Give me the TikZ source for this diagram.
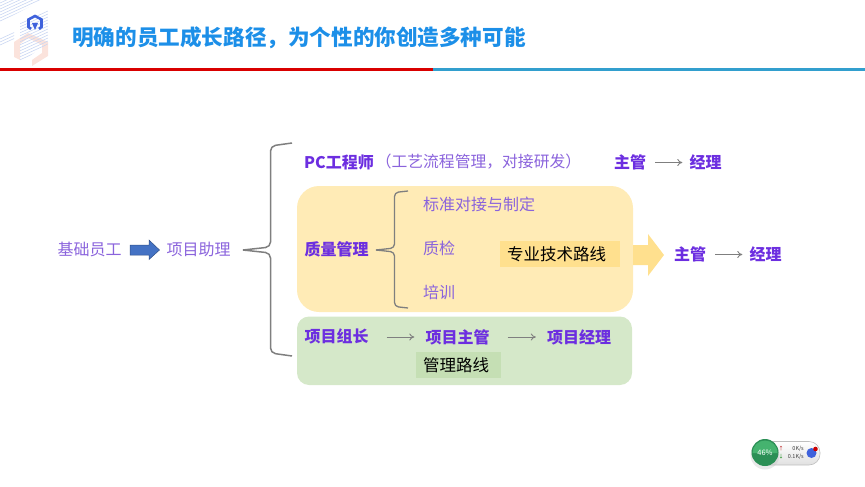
\documentclass[tikz,border=0pt]{standalone}
\usepackage{fontspec}
\setmainfont{Noto Sans CJK SC}
\usepackage{tikz}
\usetikzlibrary{positioning,calc,arrows.meta}
\definecolor{titleblue}{HTML}{1C8FE8}
\definecolor{rolepurple}{HTML}{6C2EE0}
\definecolor{thinpurple}{HTML}{8A63DC}
\definecolor{linegray}{HTML}{7F7F7F}
\definecolor{yellowbox}{HTML}{FFEBB6}
\definecolor{yellowtag}{HTML}{FFE08E}
\definecolor{greenbox}{HTML}{D5E8C9}
\definecolor{greentag}{HTML}{C5DFB4}
\definecolor{ruleblue}{HTML}{329FCE}
\definecolor{arrowblue}{HTML}{4472C4}
\definecolor{logoblue}{HTML}{3F62DC}
\definecolor{hatchblue}{HTML}{C9D6F2}
\definecolor{logopink}{HTML}{FBE3DC}
\definecolor{gaugedark}{HTML}{2B8F55}
\definecolor{gaugelight}{HTML}{45B36F}

\begin{document}
\begin{tikzpicture}[
            x=1pt,y=-1pt,
            node distance=0pt,
            role node/.style={font=\fontsize{16}{16}\selectfont\bfseries,text=rolepurple,inner ysep=0pt,inner xsep=7pt},
            plain node/.style={font=\fontsize{16}{16}\selectfont,text=thinpurple,inner sep=0pt},
            tag node/.style={font=\fontsize{16.5}{17}\selectfont,text=black,inner ysep=0pt,inner xsep=7pt,align=left,minimum height=26pt},
            step arrow/.style={draw=linegray,line width=0.9pt,-{To[length=5pt,width=7pt]}},
            brace line/.style={draw=linegray,line width=1.5pt,rounded corners=5pt},
        ]
            \useasboundingbox (0,0) rectangle (865,487);

            % header
            \fill[logopink] (14,42) -- (28,33) -- (48,42) -- (48,56) -- (32,66) -- (32,60) -- (42,53) -- (42,45) -- (28,38) -- (20,44) -- (20,60) -- (14,57) -- cycle;
            \begin{scope}
                \clip (0,0) -- (43,0) -- (0,22) -- cycle (20,22) -- (48,9) -- (48,44) -- (20,62) -- cycle (0,38) -- (14,31) -- (14,40) -- (0,47) -- cycle;
                \foreach \i in {0,...,24}
                    \draw[hatchblue,line width=0.6pt] (0,3*\i) -- (48,3*\i-22);
            \end{scope}
            \draw[logoblue,line width=2.6pt] (31,29) -- (28.5,27) -- (28.5,19.5) -- (35,16) -- (41.5,19.5) -- (41.5,27) -- (39,29);
            \fill[logoblue] (32,23) -- (38,23) -- (35,30) -- cycle;
            \node[font=\fontsize{21.6}{22}\selectfont\bfseries,text=titleblue,anchor=west,inner sep=0pt] (title) at (72,38) {明确的员工成长路径，为个性的你创造多种可能};
            \coordinate (ruleleft) at (0,69.5);
            \coordinate (rulemid) at (433,69.5);
            \coordinate (ruleright) at (865,69.5);
            \draw[red!85!black,line width=2.4pt] (ruleleft) -- (rulemid);
            \draw[ruleblue,line width=2.4pt] (rulemid) -- (ruleright);

            % boxes
            \fill[yellowbox,rounded corners=22pt] (297,186) rectangle (633,312);
            \fill[greenbox,rounded corners=12pt] (297,316.5) rectangle (632,385);
            \fill[yellowtag] (633,245) -- (648,245) -- (648,234) -- (664,255) -- (648,276) -- (648,265) -- (633,265) -- cycle;

            % left part
            \node[plain node] (base) at (89.5,249) {基础员工};
            \node[plain node] (assist) at (198.5,249) {项目助理};
            \fill[arrowblue,draw=arrowblue!70!black,line width=0.5pt] (130,245) -- (149,245) -- (149,240) -- (159.5,250) -- (149,259.5) -- (149,255) -- (130,255) -- cycle;

            % big brace
            \coordinate (bigtip) at (243,250);
            \coordinate (bigtop) at (292,143);
            \coordinate (bigbot) at (292,356);
            \draw[brace line] (bigtop) -- (270.5,146) -- (270.5,247) -- (bigtip);
            \draw[brace line] (bigbot) -- (270.5,353) -- (270.5,253) -- (bigtip);

            % first row
            \node[font=\fontsize{16}{16}\selectfont\bfseries,text=rolepurple,anchor=west,inner sep=0pt] (pc) at (304,162) {PC工程师};
            \node[plain node,right=1.5pt of pc,font=\fontsize{15.8}{16}\selectfont] (pcnote) {（工艺流程管理，对接研发）};
            \node[role node] (lead1) at (630,162.5) {主管};
            \node[role node] (mgr1) at (705.5,162.5) {经理};
            \draw[step arrow,shorten <=2pt] (lead1) -- (mgr1);

            % quality box
            \node[role node,inner xsep=0pt] (quality) at (336.5,249.5) {质量管理};
            \coordinate (smalltip) at (376,250);
            \coordinate (smalltop) at (408,191);
            \coordinate (smallbot) at (408,308);
            \draw[brace line,line width=1.3pt,rounded corners=4pt] (smalltop) -- (394.5,192.5) -- (394.5,248) -- (smalltip);
            \draw[brace line,line width=1.3pt,rounded corners=4pt] (smallbot) -- (394.5,306.5) -- (394.5,252) -- (smalltip);
            \node[plain node,anchor=west] (std) at (423,204) {标准对接与制定};
            \node[plain node,anchor=west] (check) at (423,248.5) {质检};
            \node[plain node,anchor=west] (train) at (423,292) {培训};
            \node[tag node,fill=yellowtag,text width=106pt] (techtag) at (560,254) {专业技术路线};
            \node[role node] (lead2) at (690,254.5) {主管};
            \node[role node] (mgr2) at (765.5,254.5) {经理};
            \draw[step arrow,shorten <=2pt] (lead2) -- (mgr2);

            % green box
            \node[role node] (group) at (336.5,336.5) {项目组长};
            \node[role node] (leadp) at (457.5,337) {项目主管};
            \node[role node] (mgrp) at (579,337) {项目经理};
            \draw[step arrow,shorten <=11pt,shorten >=4pt] (group.east |- leadp) -- (leadp);
            \draw[step arrow,shorten <=11pt,shorten >=4pt] (leadp) -- (mgrp);
            \node[tag node,fill=greentag,text width=71pt] (mgmttag) at (458.5,365) {管理路线};

            % speed widget
            \draw[draw=black!25,top color=white,bottom color=black!12,rounded corners=11pt,line width=0.6pt] (756,441.5) rectangle (820,465);
            \fill[black!25,opacity=0.35] (765,455) circle (14.5);
            \fill[gaugedark] (765,452.5) circle (13.5);
            \fill[gaugelight] (752.5,453) arc[start angle=180,end angle=360,radius=12.5] -- cycle;
            \node[font=\fontsize{7.5}{8}\selectfont,text=white,inner sep=0pt] (percent) at (765,452.5) {46\%};
            \node[font=\fontsize{5.5}{6}\selectfont,text=black!75,inner sep=0pt,anchor=east] (upspeed) at (804,449) {0K/s};
            \node[font=\fontsize{5.5}{6}\selectfont,text=black!75,inner sep=0pt,anchor=east] (downspeed) at (804,457) {0.1K/s};
            \node[font=\fontsize{5}{5}\selectfont,text=red!70!black,inner sep=0pt] (upmark) at (781,449) {↑};
            \node[font=\fontsize{5}{5}\selectfont,text=green!50!black,inner sep=0pt] (downmark) at (781,457) {↓};
            \fill[logoblue] (811.5,453) circle (5);
            \fill[red!80!black] (815.5,449) circle (2.3);
        \end{tikzpicture}
\end{document}
